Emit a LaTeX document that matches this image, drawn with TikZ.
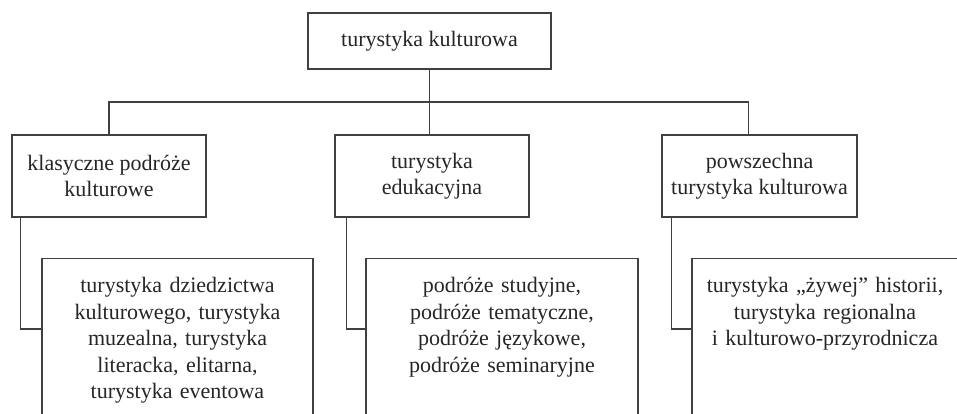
\documentclass[tikz,border=0pt]{standalone}
\usepackage{fontspec}
\setmainfont{Liberation Serif}
\usepackage{tikz}
\usetikzlibrary{positioning,calc}

\begin{document}
\begin{tikzpicture}[x=0.5pt, y=-0.5pt,
    every node/.style={font=\fontsize{11}{13.25}\selectfont, text=black!85},
    kbox/.style={rectangle, draw=black!75, line width=0.6pt, align=center, minimum width=97pt, minimum height=41pt},
    dbox/.style={rectangle, draw=black!75, line width=0.6pt, anchor=north, align=center, inner xsep=4pt, inner ysep=10pt, text height=7pt, text depth=150pt},
    link/.style={draw=black!75, line width=0.6pt}]
    \useasboundingbox (0,0) rectangle (957,413);
    \clip (0,0) rectangle (957,413);

    % top
    \node[kbox, minimum width=121.5pt, minimum height=28pt] (top) at (429.5,41) {turystyka kulturowa};

    % level 2
    \node[kbox] (klas) at (109,176) {klasyczne podróże\\kulturowe};
    \node[kbox] (edu) at (432,176) {turystyka\\edukacyjna};
    \node[kbox, minimum width=97.5pt] (pow) at (759.5,176) {powszechna\\turystyka kulturowa};

    % level 3
    \node[dbox, text width=127.5pt] (klasd) at (177.5,258) {turystyka dziedzictwa\\kulturowego, turystyka\\muzealna, turystyka\\literacka, elitarna,\\turystyka eventowa};
    \node[dbox, text width=128pt] (edud) at (502,258) {podróże studyjne,\\podróże tematyczne,\\podróże językowe,\\podróże seminaryjne};
    \node[dbox, text width=125pt] (powd) at (825,258) {turystyka „żywej” historii,\\turystyka regionalna\\i kulturowo-przyrodnicza};

    % connectors
    \coordinate (pj) at ($(pow.north west)+(87,0)$);
    \draw[link] (top.south) -- (top.south |- edu.north);
    \draw[link] (klas.north) |- ($(top.south)!.5!(edu.north)$) -| (pj);
    \draw[link] ($(klas.south west)+(9,0)$) |- ($(klasd.north west)+(0,71)$);
    \draw[link] ($(edu.south west)+(12,0)$) |- ($(edud.north west)+(0,71)$);
    \draw[link] ($(pow.south west)+(10,0)$) |- ($(powd.north west)+(0,71)$);
\end{tikzpicture}
\end{document}
